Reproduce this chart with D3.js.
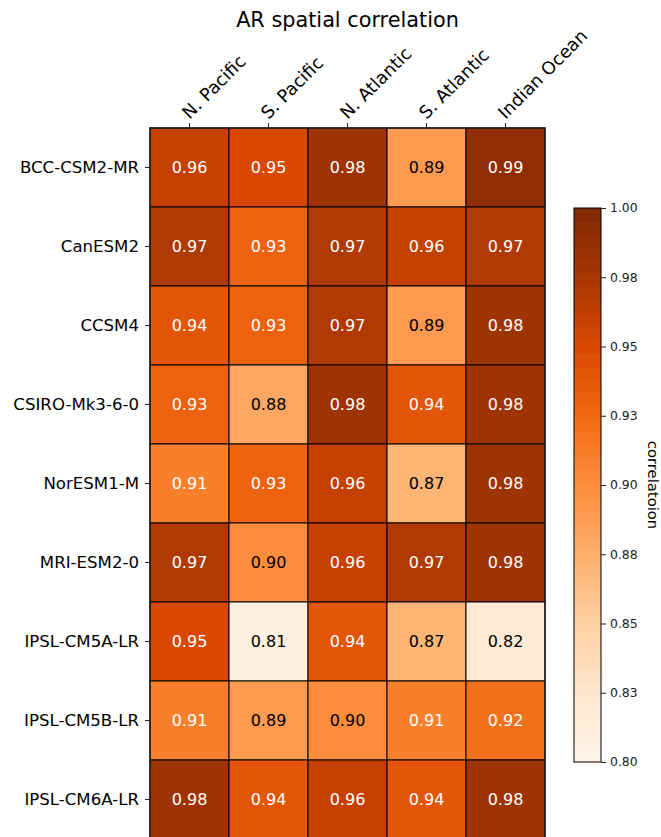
<!DOCTYPE html>
<html>
<head>
<meta charset="utf-8">
<script src="https://cdn.jsdelivr.net/npm/d3@7"></script>
<style>
  html, body { margin: 0; padding: 0; background: #fff; }
  svg { display: block; font-family: "DejaVu Sans", sans-serif; }
</style>
</head>
<body>
<svg id="chart" width="661" height="837"></svg>
<script>
const title = "AR spatial correlation";
const regions = ["N. Pacific", "S. Pacific", "N. Atlantic", "S. Atlantic", "Indian Ocean"];
const models = ["BCC-CSM2-MR", "CanESM2", "CCSM4", "CSIRO-Mk3-6-0", "NorESM1-M",
                "MRI-ESM2-0", "IPSL-CM5A-LR", "IPSL-CM5B-LR", "IPSL-CM6A-LR"];
const values = [
  [0.96, 0.95, 0.98, 0.89, 0.99],
  [0.97, 0.93, 0.97, 0.96, 0.97],
  [0.94, 0.93, 0.97, 0.89, 0.98],
  [0.93, 0.88, 0.98, 0.94, 0.98],
  [0.91, 0.93, 0.96, 0.87, 0.98],
  [0.97, 0.90, 0.96, 0.97, 0.98],
  [0.95, 0.81, 0.94, 0.87, 0.82],
  [0.91, 0.89, 0.90, 0.91, 0.92],
  [0.98, 0.94, 0.96, 0.94, 0.98]
];
const cbarTicks = [0.800, 0.825, 0.850, 0.875, 0.900, 0.925, 0.950, 0.975, 1.000];
const cbarTickLabels = ["0.80", "0.83", "0.85", "0.88", "0.90", "0.93", "0.95", "0.98", "1.00"];
const cbarLabel = "correlatoion";
const vmin = 0.80, vmax = 1.00;
const orangesStops = ["#fff5eb", "#fee6ce", "#fdd0a2", "#fdae6b", "#fd8d3c", "#f16913", "#d94801", "#a63603", "#7f2704"];

const svg = d3.select("#chart");

// color scale (matplotlib "Oranges": linear segments between ColorBrewer stops)
const stopScale = d3.scaleLinear()
  .domain(orangesStops.map((_, i) => i / (orangesStops.length - 1)))
  .range(orangesStops)
  .interpolate(d3.interpolateRgb)
  .clamp(true);
const norm = d3.scaleLinear().domain([vmin, vmax]).range([0, 1]).clamp(true);
const color = v => stopScale(norm(v));

// heatmap geometry
const hx0 = 150, cell = 79, hy0 = 128;
const x = d3.scaleBand().domain(regions).range([hx0, hx0 + cell * regions.length]);
const y = d3.scaleBand().domain(models).range([hy0, hy0 + cell * models.length]);

const g = svg.append("g");
models.forEach((m, i) => {
  regions.forEach((r, j) => {
    const v = values[i][j];
    g.append("rect")
      .attr("x", x(r)).attr("y", y(m))
      .attr("width", x.bandwidth()).attr("height", y.bandwidth())
      .attr("fill", color(v))
      .attr("stroke", "#000").attr("stroke-width", 1);
    g.append("text")
      .attr("x", x(r) + x.bandwidth() / 2)
      .attr("y", y(m) + y.bandwidth() / 2)
      .attr("dy", "0.36em")
      .attr("text-anchor", "middle")
      .attr("font-size", "16px")
      .attr("fill", v > 0.9 ? "#ffffff" : "#000000")
      .text(v.toFixed(2));
  });
});
// outer frame
svg.append("rect")
  .attr("x", hx0).attr("y", hy0)
  .attr("width", cell * regions.length).attr("height", cell * models.length)
  .attr("fill", "none").attr("stroke", "#222").attr("stroke-width", 1.6);

// top axis (rotated labels)
const topAxis = svg.append("g").attr("transform", `translate(0,${hy0})`)
  .call(d3.axisTop(x).tickSize(5).tickSizeOuter(0));
topAxis.select(".domain").remove();
topAxis.selectAll("line").attr("stroke", "#222").attr("stroke-width", 1);
topAxis.selectAll("text").remove();
regions.forEach(r => {
  const cx = x(r) + x.bandwidth() / 2;
  svg.append("text")
    .attr("transform", `translate(${cx},120) rotate(-45)`)
    .attr("text-anchor", "start")
    .attr("font-size", "17.8px")
    .attr("fill", "#000")
    .text(r);
});

// left axis
const leftAxis = svg.append("g").attr("transform", `translate(${hx0},0)`)
  .call(d3.axisLeft(y).tickSize(5).tickSizeOuter(0).tickPadding(6));
leftAxis.select(".domain").remove();
leftAxis.selectAll("line").attr("stroke", "#222").attr("stroke-width", 1);
leftAxis.selectAll("text")
  .attr("font-family", "DejaVu Sans, sans-serif")
  .attr("font-size", "16.6px")
  .attr("fill", "#000");

// title
svg.append("text")
  .attr("x", hx0 + cell * regions.length / 2)
  .attr("y", 27)
  .attr("text-anchor", "middle")
  .attr("font-size", "20.8px")
  .attr("fill", "#000")
  .text(title);

// colorbar
const cbX = 574, cbW = 27, cbTop = 208, cbBot = 762;
const cy = d3.scaleLinear().domain([vmin, vmax]).range([cbBot, cbTop]);
const steps = d3.range(0, 256);
svg.append("g").selectAll("rect").data(steps).join("rect")
  .attr("x", cbX)
  .attr("y", d => cy(vmin + (d + 1) * (vmax - vmin) / 256))
  .attr("width", cbW)
  .attr("height", d => cy(vmin + d * (vmax - vmin) / 256) - cy(vmin + (d + 1) * (vmax - vmin) / 256) + 0.6)
  .attr("fill", d => color(vmin + (d + 0.5) * (vmax - vmin) / 256));
svg.append("rect")
  .attr("x", cbX).attr("y", cbTop).attr("width", cbW).attr("height", cbBot - cbTop)
  .attr("fill", "none").attr("stroke", "#000").attr("stroke-width", 1);
const cbAxis = svg.append("g").attr("transform", `translate(${cbX + cbW},0)`)
  .call(d3.axisRight(cy).tickValues(cbarTicks)
    .tickFormat((d, i) => cbarTickLabels[i]).tickSize(5).tickSizeOuter(0).tickPadding(4));
cbAxis.select(".domain").remove();
cbAxis.selectAll("line").attr("stroke", "#222");
cbAxis.selectAll("text")
  .attr("font-family", "DejaVu Sans, sans-serif")
  .attr("font-size", "12.4px")
  .attr("fill", "#222");
svg.append("text")
  .attr("transform", `translate(648,${(cbTop + cbBot) / 2}) rotate(90)`)
  .attr("text-anchor", "middle")
  .attr("font-size", "14.8px")
  .attr("fill", "#000")
  .text(cbarLabel);
</script>
</body>
</html>
